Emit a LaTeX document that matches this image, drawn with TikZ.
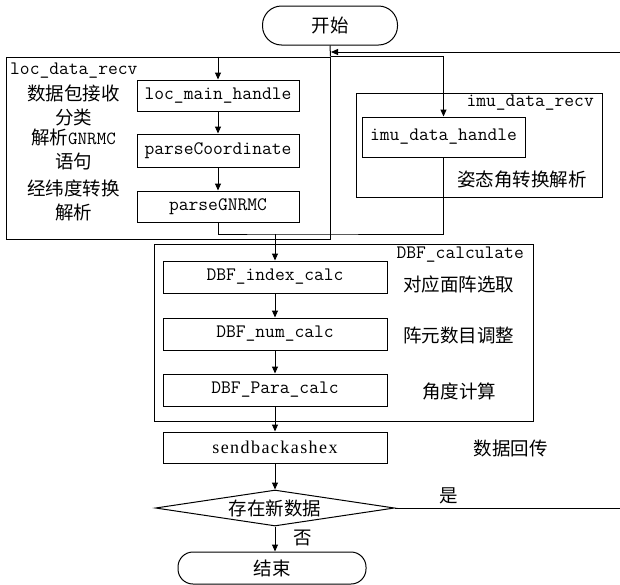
\documentclass[tikz,border=0pt]{standalone}
\usepackage{fontspec}
\setmainfont{Liberation Serif}
\newfontfamily\cjk{Noto Sans CJK SC}
\newfontfamily\sendfont[LetterSpace=8]{Liberation Serif}
\usetikzlibrary{arrows.meta,shapes.geometric}
\tikzset{
  ln/.style={line width=1pt, draw=black},
  arr/.style={ln, -{Triangle[length=7pt,width=6pt]}},
  mono/.style={font=\fontsize{19pt}{22pt}\selectfont\ttfamily},
  zh/.style={font=\fontsize{18.5pt}{24pt}\selectfont\cjk},
  fbox/.style={ln, rectangle, inner sep=0pt, mono},
  term/.style={ln, rectangle, rounded corners=15pt, inner sep=0pt, zh},
  grp/.style={ln, rectangle, inner sep=0pt},
  lbl/.style={inner sep=0pt, align=center},
}
\begin{document}
\begin{tikzpicture}[x=1pt,y=-1pt]
\useasboundingbox (0,0) rectangle (620,584);
% group boxes
\node[grp, minimum width=324pt, minimum height=182pt] (locbox) at (168,148) {};
\node[grp, minimum width=246pt, minimum height=104pt] (imubox) at (479,145) {};
\node[grp, minimum width=379pt, minimum height=177pt] (dbfbox) at (343.5,332.5) {};
% terminals
\node[term, minimum width=135pt, minimum height=39pt, rounded corners=19pt] (start) at (330,25.5) {开始};
\node[term, minimum width=188pt, minimum height=32pt] (end) at (272,568) {结束};
% function boxes
\node[fbox, minimum width=162pt, minimum height=31pt] (lmh) at (218,95.5) {loc\_main\_handle};
\node[fbox, minimum width=162pt, minimum height=33pt] (pc) at (218,150.5) {parseCoordinate};
\node[fbox, minimum width=162pt, minimum height=31pt] (pg) at (218,206.5) {parseGNRMC};
\node[fbox, minimum width=163pt, minimum height=40pt] (imh) at (443.5,137) {imu\_data\_handle};
\node[fbox, minimum width=224pt, minimum height=32pt] (dic) at (275,277) {DBF\_index\_calc};
\node[fbox, minimum width=224pt, minimum height=32pt] (dnc) at (275,334) {DBF\_num\_calc};
\node[fbox, minimum width=224pt, minimum height=32pt] (dpc) at (275,390) {DBF\_Para\_calc};
\node[ln, rectangle, inner sep=0pt, minimum width=224pt, minimum height=31pt,
      font=\fontsize{18pt}{22pt}\selectfont\sendfont] (sbh) at (275,447.5) {sendbackashex};
\node[ln, diamond, aspect=6.6, inner sep=0pt, minimum width=239pt, minimum height=36pt, zh] (dia) at (275,508) {存在新数据};
% labels
\node[lbl, mono, anchor=west] (locl) at (10,71) {loc\_data\_recv};
\node[lbl, mono, anchor=east] (imul) at (594,103) {imu\_data\_recv};
\node[lbl, mono, anchor=east] (dbfl) at (524,255) {DBF\_calculate};
\node[lbl, zh] (l1) at (73.5,105) {数据包接收\\分类};
\node[lbl, zh] (l2) at (73.5,150) {解析{\ttfamily GNRMC}\\语句};
\node[lbl, zh] (l3) at (73.5,200.5) {经纬度转换\\解析};
\node[lbl, zh] (l4) at (522,180) {姿态角转换解析};
\node[lbl, zh] (l5) at (458.5,284) {对应面阵选取};
\node[lbl, zh] (l6) at (458.5,335) {阵元数目调整};
\node[lbl, zh] (l7) at (459,391) {角度计算};
\node[lbl, zh] (l8) at (510.5,448) {数据回传};
\node[lbl, zh] (yes) at (449,496) {是};
\node[lbl, zh] (no) at (303,538) {否};
% coordinates
\coordinate (mj) at (275,234);
\coordinate (tj) at (331,52);
\coordinate (r1) at (640,508);
\coordinate (r2) at (640,52);
% connectors
\draw[ln] (start.south) -- (locbox.north east);
\draw[arr] (locbox.north east) -- (locbox.north east -| imh.north) -- (imh.north);
\draw[arr] (locbox.north -| lmh.north) -- (lmh.north);
\draw[arr] (lmh) -- (pc);
\draw[arr] (pc) -- (pg);
\draw[ln] (pg.south) |- (mj) -- (mj -| imh.south) -- (imh.south);
\draw[arr] (mj) -- (dic.north);
\draw[arr] (dic) -- (dnc);
\draw[arr] (dnc) -- (dpc);
\draw[arr] (dpc) -- (sbh);
\draw[arr] (sbh) -- (dia);
\draw[arr] (dia.south) -- (dia.south |- end.north);
\draw[arr] (dia.east) -- (r1) -- (r2) -- (tj);
\end{tikzpicture}
\end{document}
